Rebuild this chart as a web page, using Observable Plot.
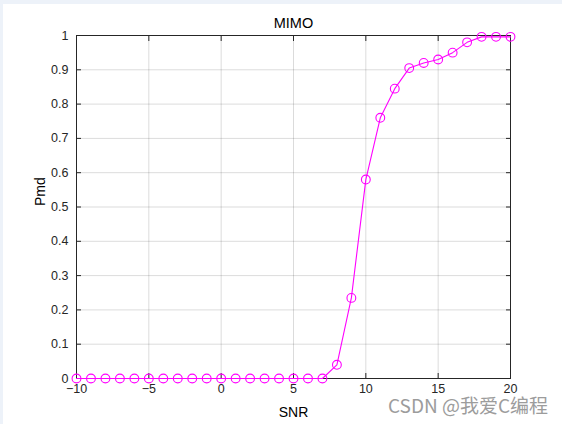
<!DOCTYPE html>
<html>
<head>
<meta charset="utf-8">
<script src="https://cdn.jsdelivr.net/npm/d3@7"></script>
<script src="https://cdn.jsdelivr.net/npm/@observablehq/plot@0.6"></script>
<style>
  html, body { margin: 0; padding: 0; background: #ffffff; }
  #wrap { position: relative; width: 562px; height: 424px; overflow: hidden; background: #ffffff; }
  #topband { position: absolute; left: 0; top: 0; width: 562px; height: 4px; background: #edf2f9; }
  #leftband { position: absolute; left: 0; top: 0; width: 3px; height: 424px; background: #edf2f9; }
  #chart { position: absolute; left: 0; top: 0; }
  #wm { position: absolute; left: 388px; top: 395px; font-family: "Noto Sans CJK SC", "Liberation Sans", sans-serif; font-size: 19px; line-height: 1; color: #9c9c9c; white-space: nowrap;
        text-shadow: 0 0 2px #fff, 0 0 2px #fff; }
</style>
</head>
<body>
<div id="wrap">
  <div id="topband"></div>
  <div id="leftband"></div>
  <div id="chart"></div>
  <div id="wm">CSDN @我爱C编程</div>
</div>
<script>
const title = "MIMO";
const xLabel = "SNR";
const yLabel = "Pmd";
const snr = [-10,-9,-8,-7,-6,-5,-4,-3,-2,-1,0,1,2,3,4,5,6,7,8,9,10,11,12,13,14,15,16,17,18,19,20];
const pmd = [0,0,0,0,0,0,0,0,0,0,0,0,0,0,0,0,0,0,0.04,0.235,0.58,0.76,0.845,0.905,0.92,0.93,0.95,0.98,0.996,0.996,0.996];
const xTicks = [-10,-5,0,5,10,15,20];
const yTicks = [0,0.1,0.2,0.3,0.4,0.5,0.6,0.7,0.8,0.9,1];

const data = snr.map((s, i) => ({snr: s, pmd: pmd[i]}));
const yFmt = d => String(d);
const axisColor = "#262626";
const font = "'Liberation Sans', Arial, sans-serif";

const chart = Plot.plot({
  width: 562,
  height: 424,
  marginLeft: 76,
  marginRight: 52,
  marginTop: 35,
  marginBottom: 46,
  style: {fontFamily: font, fontSize: "12.5px", color: axisColor, background: "transparent"},
  x: {domain: [-10, 20]},
  y: {domain: [0, 1]},
  marks: [
    Plot.gridX(xTicks, {stroke: "#000", strokeOpacity: 0.14}),
    Plot.gridY(yTicks, {stroke: "#000", strokeOpacity: 0.14}),
    Plot.frame({stroke: axisColor, strokeWidth: 1}),
    Plot.axisX(xTicks, {anchor: "bottom", tickSize: 0, tickPadding: 6, label: null, fill: axisColor}),
    Plot.axisX(xTicks, {anchor: "bottom", tickSize: -5, text: null, label: null, stroke: axisColor}),
    Plot.axisX(xTicks, {anchor: "top", tickSize: -5, text: null, label: null, stroke: axisColor}),
    Plot.axisY(yTicks, {anchor: "left", tickSize: 0, tickPadding: 8, tickFormat: yFmt, label: null, fill: axisColor}),
    Plot.axisY(yTicks, {anchor: "left", tickSize: -5, text: null, label: null, stroke: axisColor}),
    Plot.axisY(yTicks, {anchor: "right", tickSize: -5, text: null, label: null, stroke: axisColor}),
    Plot.line(data, {x: "snr", y: "pmd", stroke: "#ff00ff", strokeWidth: 1.1}),
    Plot.dot(data, {x: "snr", y: "pmd", r: 4.4, stroke: "#ff00ff", strokeWidth: 1.1, fill: "none"}),
    Plot.text([title], {frameAnchor: "top", lineAnchor: "middle", dy: -12.5, text: d => d, fontSize: 14.5, fill: "#000"}),
    Plot.text([xLabel], {frameAnchor: "bottom", lineAnchor: "middle", dy: 34, text: d => d, fontSize: 14, fill: "#000"}),
    Plot.text([yLabel], {frameAnchor: "left", lineAnchor: "middle", dx: -36, dy: -1, rotate: -90, text: d => d, fontSize: 14, fill: "#000"})
  ]
});
document.getElementById("chart").appendChild(chart);
</script>
</body>
</html>
